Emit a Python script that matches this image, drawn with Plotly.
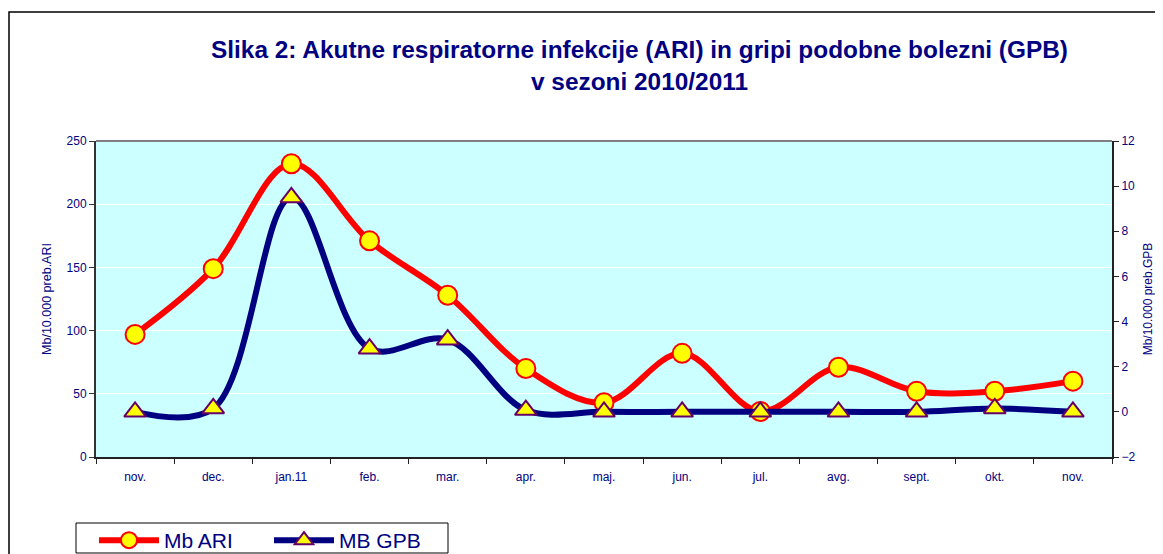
import plotly.graph_objects as go

categories = ["nov.", "dec.", "jan.11", "feb.", "mar.", "apr.", "maj.", "jun.", "jul.", "avg.", "sept.", "okt.", "nov."]
mb_ari = [97, 149, 232, 171, 128, 70, 43, 82, 36, 71, 52, 52, 60]
mb_gpb = [0.0, 0.15, 9.5, 2.8, 3.2, 0.08, 0.0, 0.0, 0.0, 0.0, 0.0, 0.15, 0.0]

x = list(range(len(categories)))
navy = "#000080"
font = "Liberation Sans, Arial, sans-serif"

W, H = 1155, 546          # page body has an 8px margin
L, T, R, B = 88, 133, 51, 97
PW, PH = W - L - R, H - T - B


def px_x(v):
    return (v - L) / PW


def px_y(v):
    return (H - B - v) / PH


fig = go.Figure()
fig.add_trace(go.Scatter(
    x=x, y=mb_ari, name="Mb ARI", mode="lines+markers",
    line=dict(color="#FF0000", width=6, shape="spline", smoothing=1.0),
    marker=dict(symbol="circle", size=19, color="#FFFF00", line=dict(color="#FF0000", width=2)),
    yaxis="y"))
fig.add_trace(go.Scatter(
    x=x, y=mb_gpb, name="MB GPB", mode="lines+markers",
    line=dict(color=navy, width=6, shape="spline", smoothing=1.0),
    marker=dict(symbol="triangle-up", size=19, color="#FFFF00", line=dict(color="#660066", width=2)),
    yaxis="y2"))

fig.update_layout(
    width=W, height=H,
    margin=dict(l=L, r=R, t=T, b=B, autoexpand=False),
    paper_bgcolor="white", plot_bgcolor="#CCFFFF",
    font=dict(family=font, color=navy, size=12),
    title=dict(text="<b>Slika 2: Akutne respiratorne infekcije (ARI) in gripi podobne bolezni (GPB)<br>v sezoni 2010/2011</b>",
               x=631.5 / W, xanchor="center", xref="container", y=1 - 50 / H, yanchor="top", yref="container",
               font=dict(size=24.4, color=navy, family=font)),
    xaxis=dict(range=[-0.5, 12.5], tickvals=x, ticktext=categories, ticks="",
               showgrid=False, zeroline=False, showline=True, linecolor="#222222", linewidth=2,
               tickfont=dict(size=12, color=navy), ticklabelstandoff=8,
               minor=dict(tickvals=[i - 0.5 for i in range(len(categories) + 1)], ticks="outside",
                          ticklen=5, tickcolor="#222222", tickwidth=1, showgrid=False)),
    yaxis=dict(range=[0, 250], dtick=50, showgrid=True, gridcolor="white", gridwidth=1,
               zeroline=False, showline=True, linecolor="#333333", linewidth=2,
               ticks="outside", ticklen=5, tickcolor="#333333",
               title=dict(text="Mb/10.000 preb.ARI", font=dict(size=12.5, color=navy), standoff=12),
               tickfont=dict(size=12, color=navy)),
    yaxis2=dict(range=[-2, 12], dtick=2, overlaying="y", side="right", showgrid=False,
                zeroline=False, showline=True, linecolor="#222222", linewidth=2,
                ticks="outside", ticklen=5, tickcolor="#222222",
                title=dict(text="Mb/10.000 preb.GPB", font=dict(size=12, color=navy), standoff=9),
                tickfont=dict(size=12, color=navy)),
    legend=dict(orientation="h", x=px_x(86), y=px_y(512), xanchor="left", yanchor="top",
                bgcolor="rgba(0,0,0,0)", borderwidth=0,
                font=dict(size=21, color=navy, family=font),
                itemwidth=60, entrywidth=100, entrywidthmode="pixels"),
    showlegend=True,
)

# top border of plot area (grey)
fig.add_shape(type="line", xref="paper", yref="paper", x0=0, x1=1, y0=1, y1=1,
              line=dict(color="#808080", width=2))
# outer chart border
fig.add_shape(type="rect", xref="paper", yref="paper", x0=px_x(1), x1=1.2, y0=-0.5, y1=px_y(4),
              line=dict(color="#000000", width=1.5), fillcolor="rgba(0,0,0,0)", layer="below")
# legend box
fig.add_shape(type="rect", xref="paper", yref="paper", x0=px_x(68), x1=px_x(440), y0=px_y(545), y1=px_y(515),
              line=dict(color="#000000", width=1), fillcolor="white", layer="below")

fig.write_html("out.html")
